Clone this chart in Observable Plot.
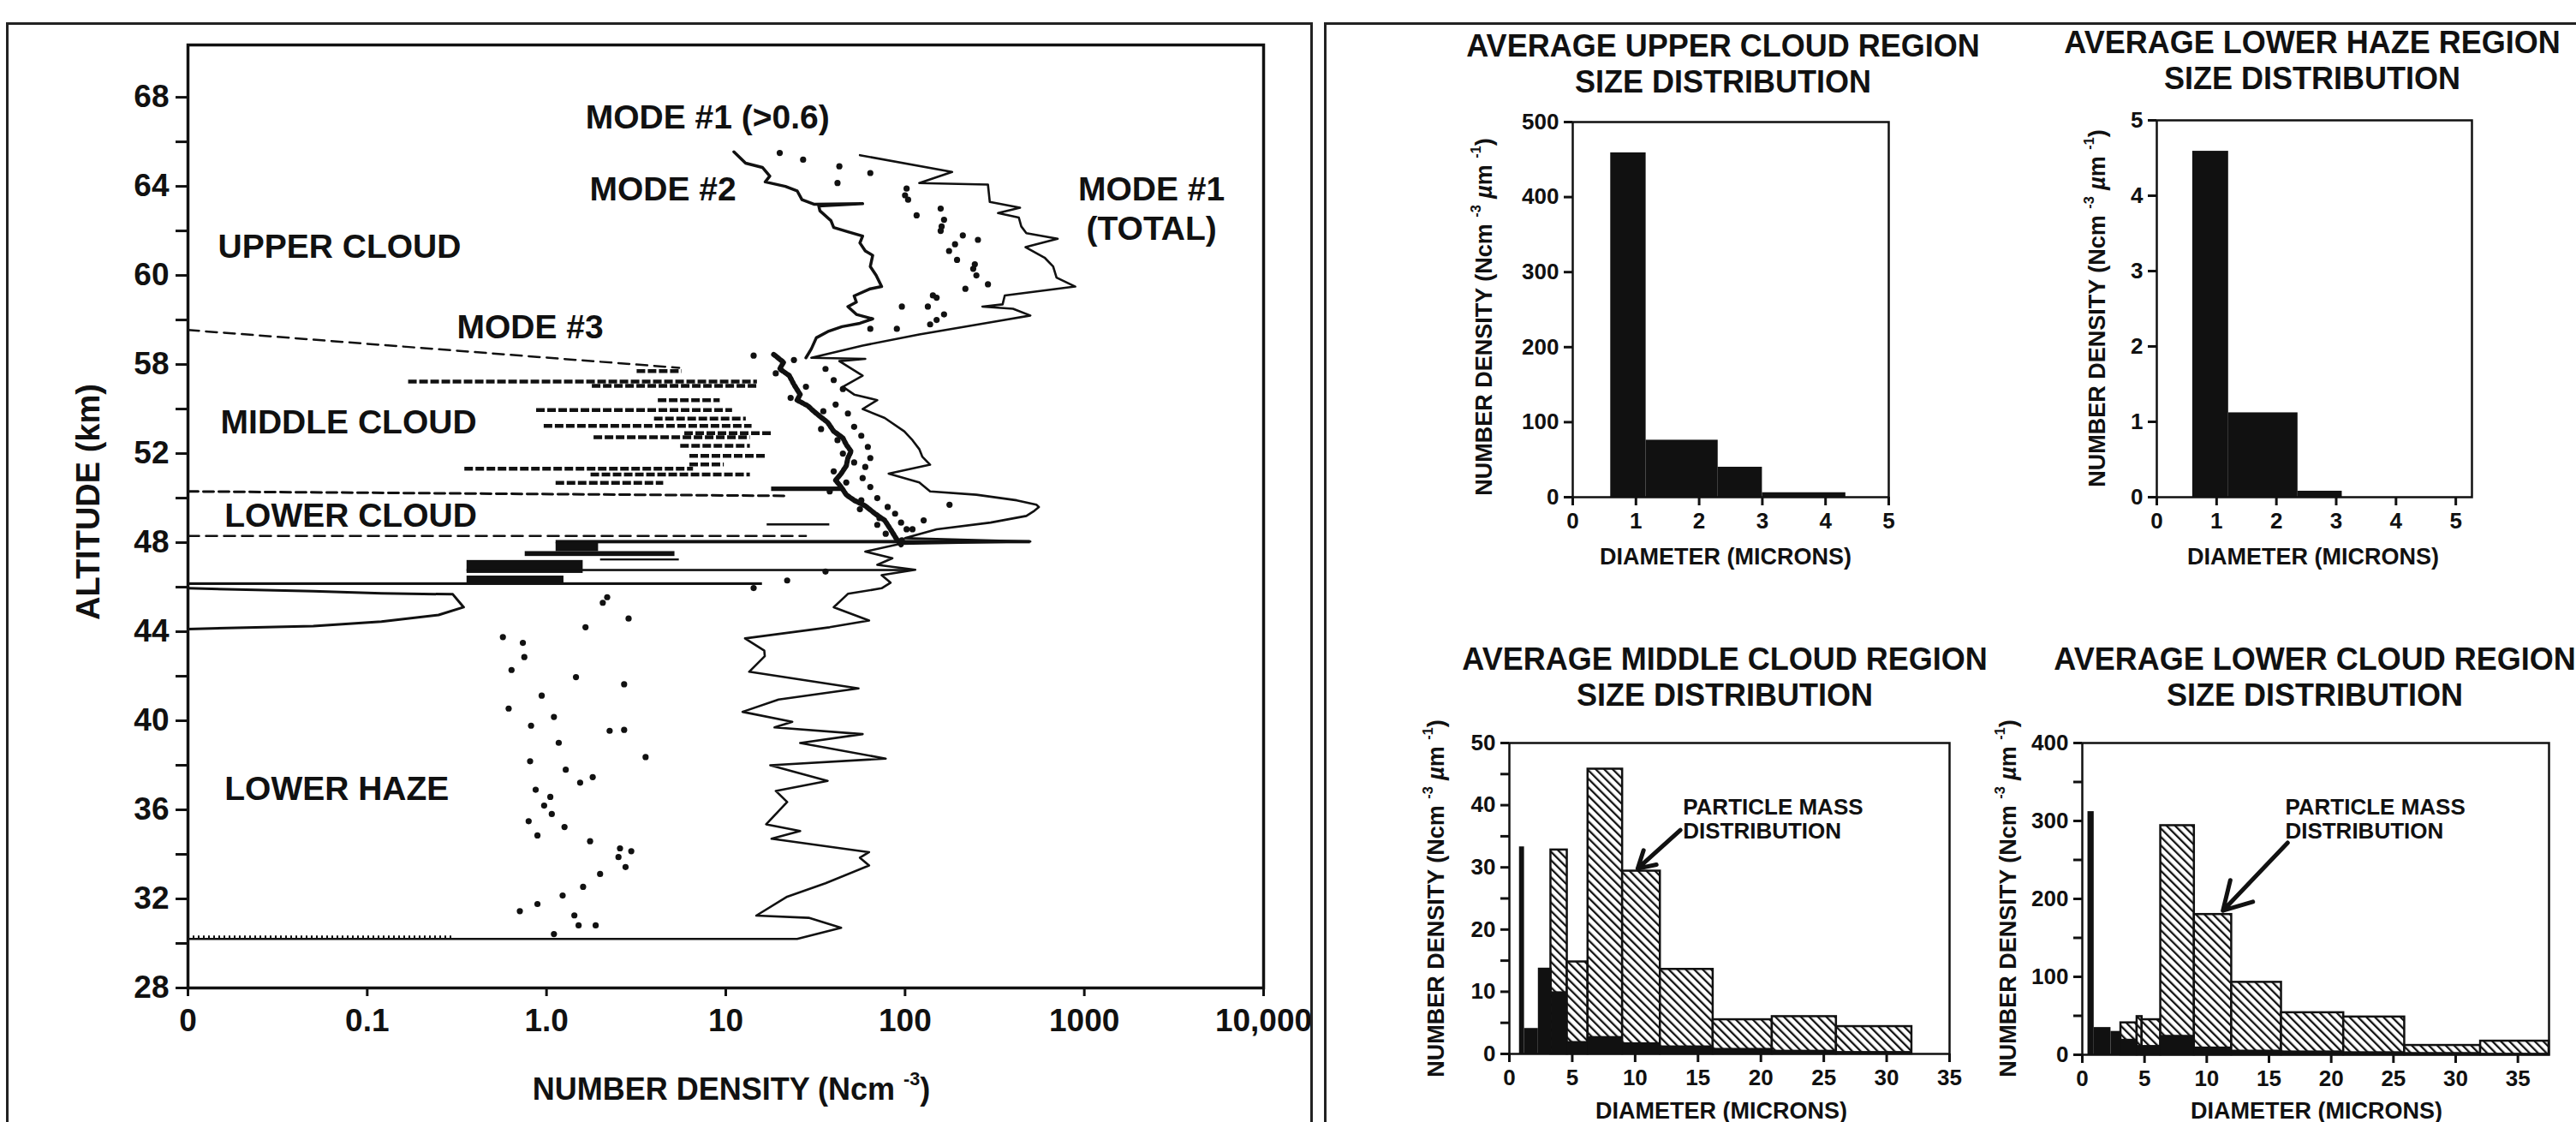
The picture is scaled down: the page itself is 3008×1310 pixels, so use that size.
<!DOCTYPE html>
<html><head><meta charset="utf-8">
<script src="https://cdn.jsdelivr.net/npm/d3@7"></script>
<script src="https://cdn.jsdelivr.net/npm/@observablehq/plot@0.6"></script>
<style>
html,body{margin:0;padding:0;background:#fff}
#page{position:relative;width:3008px;height:1310px;overflow:hidden;background:#fff;font-family:"Liberation Sans",Arial,Helvetica,sans-serif;font-weight:bold;color:#111}
.box{position:absolute;border:3px solid #222;box-sizing:border-box;pointer-events:none}
.chart{position:absolute}
.lbl{position:absolute;white-space:nowrap;transform:translate(-50%,-50%);line-height:1}
.rot{transform:translate(-50%,-50%) rotate(-90deg)}
sup{font-size:0.6em;vertical-align:0;position:relative;top:-0.8em}
.title{position:absolute;transform:translateX(-50%);text-align:center;white-space:nowrap;font-size:36px;line-height:42px}
g[aria-label="x-axis tick"], g[aria-label="y-axis tick"]{stroke-width:3px}
.tick line{stroke-width:3px}
</style></head>
<body>
<svg width="0" height="0" style="position:absolute;left:0;top:0">
 <defs>
  <pattern id="hatch" patternUnits="userSpaceOnUse" width="7" height="7" patternTransform="rotate(-45)">
   <rect width="7" height="7" fill="#fff"></rect>
   <rect x="0" y="0" width="2.3" height="7" fill="#111"></rect>
  </pattern>
 </defs>
</svg>
<div id="page"></div>
<script>
// ---------------- LEFT PANEL DATA (altitude km, number density Ncm^-3) ----------------
const xTicks = [0.01, 0.1, 1, 10, 100, 1000, 10000];
const xTickLabels = ["0", "0.1", "1.0", "10", "100", "1000", "10,000"];
const yTicks = [68,66,64,62,60,58,56,54,52,50,48,46,44,42,40,38,36,34,32,30,28];
const yLabelledTicks = [68,64,60,56,52,48,44,40,36,32,28];
const yTickLabels = ["68","64","60","58","52","48","44","40","36","32","28"];

const mode1Total = [
[65.4,56],[64.65,183],[64.15,120],[64.08,290],[63.3,297],[63.04,438],[62.8,330],[62.6,431],[62.2,445],[61.9,475],
[61.65,710],[61.27,470],[60.8,600],[60.4,670],[59.9,700],[59.5,890],[59.1,360],[58.7,350],[58.6,270],[58.5,400],
[58.2,500],[58.0,360],[57.35,120],[56.85,58],[56.3,30],[56.25,60],[56.15,43],[55.5,58],[55.0,45],[54.65,52],
[54.4,70],[54.0,58],[53.6,77],[53.0,99],[52.6,110],[52.2,120],[51.85,125],[51.5,138],[51.1,81],[50.7,120],
[50.3,138],[50.15,250],[49.9,420],[49.7,540],[49.6,558],[49.4,520],[49.2,475],[48.9,300],[48.6,150],[48.2,100],
[48.05,500],[47.95,95],[47.6,60],[47.3,85],[47.0,70],[46.78,114],[46.54,74],[46.2,83],[45.95,74],[45.7,48],
[45.1,40],[44.5,63],[44.2,38],[43.7,12.8],[43.15,16.4],[42.9,16.5],[42.2,13.5],[41.45,55],[40.95,19.7],[40.4,12.4],
[39.95,23.5],[39.7,18.7],[39.4,58],[39.0,26],[38.3,78],[38.0,17.7],[37.3,37],[36.85,19],[36.35,22],[35.35,16.8],
[35.05,26],[34.7,18],[34.1,63],[33.85,56],[33.5,63],[32.7,36],[32.1,22],[31.25,14.8],[31.15,29],[30.7,44],
[30.2,25],[30.2,0.01]
];

const mode2Upper = [
[65.55,11.1],[65.04,12.9],[64.85,16],[64.46,17.6],[64.2,16.6],[64.0,21.5],[63.8,25],[63.4,26.6],[63.2,31],[63.22,58],
[63.12,33],[62.9,33.5],[62.46,38.6],[62.15,40],[61.96,48],[61.77,58],[61.46,56],[61.1,60],[60.9,66],[60.4,64],
[60.0,69],[59.5,74],[59.4,64],[59.08,52],[58.8,53.5],[58.6,48],[58.25,53.5],[58.05,66],[57.85,56],[57.7,44.5],
[57.5,37.6],[57.2,32],[56.7,30],[56.3,28]
];

const mode2Middle = [
[56.45,18.5],[56.1,21],[55.8,20],[55.5,22.6],[55.1,24],[54.65,26],[54.4,25],[54.15,28.6],[53.8,32],[53.4,37],
[53.0,40],[52.7,45],[52.4,47],[52.1,50],[51.8,48],[51.45,47],[51.1,44],[50.8,41],[50.5,44],[50.15,47],
[49.9,52],[49.65,60],[49.3,68],[49.0,77],[48.6,83],[48.2,89],[47.9,95]
];

const mode1Dots = [
[65.5,20],[65.2,27],[64.9,43],[64.15,42],[64.6,64],[63.9,102],[63.6,100],[63.4,104],[62.7,116],[63.0,158],
[62.5,165],[62.2,160],[62.0,158],[61.8,210],[61.6,255],[61.4,190],[61.1,176],[60.7,195],[60.5,245],[60.3,240],
[60.0,250],[59.6,290],[59.4,217],[59.1,143],[59.0,150],[58.6,134],[58.6,96],[58.25,165],[58.0,150],[57.8,138],
[57.6,90],[57.6,64],
[56.4,14.3],[55.8,36],[55.3,40],[54.9,45],[54.2,41],[53.8,48],[53.2,52],[52.8,57],[52.3,62],[51.8,64],
[51.4,60],[50.9,58],[50.5,64],[50.0,70],[49.6,80],[49.3,88],[48.9,95],[48.6,110],[49.7,177],[49.0,127],
[48.6,102],[46.3,22],[46.7,36],[45.96,14.3],
[56.2,24],[55.6,19],[55.0,28],[54.5,23],[53.9,35],[53.1,34],[52.6,42],[52.0,45],[51.6,52],[51.2,40],
[50.7,47],[50.3,38],[49.9,57],[49.5,56],[49.1,72],[48.8,70],[48.4,78],[48.1,96],
[45.3,2.06],[45.55,2.18],[44.59,2.87],[44.2,1.65],[43.76,0.571],[43.5,0.738],[42.86,0.752],[42.28,0.638],[41.96,1.46],[41.64,2.71],
[41.13,0.94],[40.55,0.615],[40.17,1.10],[39.78,0.82],[39.59,2.71],[39.55,2.25],[39.01,1.17],[38.37,3.57],[38.18,0.81],[37.8,1.28],
[37.22,1.54],[37.47,1.81],[36.9,0.87],[36.58,1.05],[36.19,0.97],[35.81,1.07],[35.49,0.795],[35.23,1.26],[34.85,0.89],[34.59,1.75],
[34.27,2.57],[34.14,2.97],[33.88,2.52],[33.43,2.76],[33.12,1.99],[32.54,1.60],[32.15,1.23],[31.77,0.89],[31.45,0.71],[31.26,1.43],
[30.81,1.51],[30.81,1.88],[30.42,1.10]
];

// Mode #3 dashed segments: [altitude, from, to]
const mode3Segments = [
[55.7,3.2,5.7],[55.23,0.17,15],[55.04,1.8,15],[54.4,4.2,9.3],[53.95,0.88,10.9],[53.57,4,13],[53.24,0.97,14],
[52.92,5.9,18],[52.73,1.84,13.7],[52.35,5.6,13.7],[51.9,6.3,16.7],[51.51,6.3,9.8],[51.32,0.35,6.6],
[51.06,1.77,13.7],[50.68,1.13,4.5]
];

// region boundary dashed lines: [altitude, value]
const boundaryUpper = [[57.55,0.01],[55.85,5.5]];
const boundaryMiddle = [[50.3,0.01],[50.1,22]];
const boundaryLower = [[48.3,0.01],[48.3,28]];

// solid bars near the cloud base: [from, to, alt bottom, alt top]
const baseBars = [
[1.13,500,47.95,48.1],[1.13,1.95,47.6,48.0],[0.76,5.2,47.38,47.6],[2.0,5.5,47.18,47.27],[0.36,1.6,46.62,47.2],
[0.36,1.25,46.15,46.5],[0.36,110,46.7,46.8],[0.01,16,46.08,46.2],[18,45,50.3,50.5],[17,38,48.75,48.85]
];

const hazeSpike = [[45.95,0.01],[45.82,0.05],[45.72,0.12],[45.68,0.3],[45.1,0.345],[44.75,0.25],[44.45,0.12],[44.25,0.05],[44.12,0.01]];
const hazeStipple = [[30.3,0.01,0.3]];

const regionLabels = [
 {label:"MODE #1 (>0.6)", v:1.65, alt:67.08, anchor:"start"},
 {label:"MODE #2", v:1.74, alt:63.85, anchor:"start"},
 {label:"MODE #1", v:2370, alt:63.85, anchor:"middle"},
 {label:"(TOTAL)", v:2370, alt:62.08, anchor:"middle"},
 {label:"UPPER CLOUD", v:0.0147, alt:61.27, anchor:"start"},
 {label:"MODE #3", v:0.316, alt:57.65, anchor:"start"},
 {label:"MIDDLE CLOUD", v:0.0152, alt:53.38, anchor:"start"},
 {label:"LOWER CLOUD", v:0.016, alt:49.19, anchor:"start"},
 {label:"LOWER HAZE", v:0.016, alt:36.92, anchor:"start"}
];

// ---------------- RIGHT PANEL DATA: size-distribution bins [from um, to um, value] ----------------
const upperCloudBins = [[0.6,1.16,459],[1.16,2.3,76],[2.3,3.0,40],[3.0,4.32,6]];
const lowerHazeBins = [[0.6,1.2,4.59],[1.2,2.36,1.12],[2.36,3.1,0.08]];
const middleNumberBins = [[0.8,1.2,33.3],[1.2,2.3,4.1],[2.3,3.4,13.8],[3.4,4.6,10],[4.6,6.25,2.0],[6.25,9.0,2.8],[9.0,12.0,1.8],[12.0,16.2,1.3],[16.2,20.9,0.9],[20.9,26.0,0.6],[26.0,32.0,0.4]];
const middleMassBins = [[3.3,4.6,32.8],[4.6,6.25,14.8],[6.25,9.0,45.8],[9.0,12.0,29.4],[12.0,16.2,13.6],[16.2,20.9,5.5],[20.9,26.0,6.0],[26.0,32.0,4.4]];
const lowerNumberBins = [[0.45,0.95,312],[0.95,2.3,35],[2.3,3.1,30],[3.1,4.4,20],[4.4,6.3,12],[6.3,9.0,25],[9.0,12.0,10],[12.0,16.0,6],[16.0,21.0,5],[21.0,25.9,4],[25.9,32.0,3],[32.0,37.5,2]];
const lowerMassBins = [[3.1,4.4,41],[4.4,4.8,49],[4.8,6.3,45],[6.3,9.0,294],[9.0,12.0,180],[12.0,16.0,93],[16.0,21.0,54],[21.0,25.9,48.5],[25.9,32.0,12],[32.0,37.5,17.5]];
const massNoteText = "PARTICLE MASS\nDISTRIBUTION";
const middleNote = {x:13.8, y:37.85}, middleArrow = {x1:13.6, y1:36.0, x2:10.2, y2:29.8};
const lowerNote = {x:16.3, y:302.7}, lowerArrow = {x1:16.5, y1:272, x2:11.3, y2:185};

// ---------------- BUILD ----------------
const FONT = '"Liberation Sans", Arial, Helvetica, sans-serif';
const page = document.getElementById("page");
function place(node, left, top, w) {
  const d = document.createElement("div");
  d.className = "chart"; d.style.left = left + "px"; d.style.top = top + "px"; d.style.width = w + "px";
  d.appendChild(node); page.appendChild(d);
}
const A = d => d[0], V = d => d[1];

const left = Plot.plot({
  width: 1540, height: 1310,
  marginLeft: 219, marginRight: 65, marginTop: 52, marginBottom: 157,
  style: {fontFamily: FONT, fontWeight: "bold", fontSize: "37px", background: "none", maxWidth: "none", color: "#111"},
  x: {type: "log", domain: [0.01, 10000], ticks: xTicks, tickFormat: d => xTickLabels[xTicks.indexOf(d)], tickSize: 10, tickPadding: 14, label: null},
  y: {domain: [28, 70.35], ticks: yTicks, tickFormat: d => { const i = yLabelledTicks.indexOf(d); return i >= 0 ? yTickLabels[i] : ""; }, tickSize: 14, tickPadding: 8, label: null},
  marks: [
    Plot.line(boundaryUpper, {x: V, y: A, stroke: "#111", strokeWidth: 2.5, strokeDasharray: "13,8"}),
    Plot.line(boundaryMiddle, {x: V, y: A, stroke: "#111", strokeWidth: 3, strokeDasharray: "12,6"}),
    Plot.line(boundaryLower, {x: V, y: A, stroke: "#111", strokeWidth: 2.5, strokeDasharray: "13,8"}),
    Plot.ruleY(mode3Segments, {y: d => d[0], x1: d => d[1], x2: d => d[2], stroke: "#111", strokeWidth: 4.5, strokeDasharray: "10,3"}),
    Plot.rect(baseBars, {x1: d => d[0], x2: d => d[1], y1: d => d[2], y2: d => d[3], fill: "#111"}),
    Plot.line(hazeSpike, {x: V, y: A, stroke: "#111", strokeWidth: 3}),
    Plot.ruleY(hazeStipple, {y: d => d[0], x1: d => d[1], x2: d => d[2], stroke: "#111", strokeWidth: 3, strokeDasharray: "2,4"}),
    Plot.line(mode2Upper, {x: V, y: A, stroke: "#111", strokeWidth: 3.5}),
    Plot.line(mode2Middle, {x: V, y: A, stroke: "#111", strokeWidth: 6, strokeDasharray: "3,2"}),
    Plot.line(mode1Total, {x: V, y: A, stroke: "#111", strokeWidth: 2.6}),
    Plot.dot(mode1Dots, {x: V, y: A, r: 3.6, fill: "#111"}),
    Plot.text(regionLabels.filter(d => d.anchor === "start"), {x: "v", y: "alt", text: "label", textAnchor: "start", fontSize: 39, fontWeight: "bold", fill: "#111"}),
    Plot.text(regionLabels.filter(d => d.anchor === "middle"), {x: "v", y: "alt", text: "label", textAnchor: "middle", fontSize: 39, fontWeight: "bold", fill: "#111"}),
    Plot.frame({stroke: "#111", strokeWidth: 3.5})
  ]
});
place(left, 0, 0, 1540);

function hist(o) {
  const marks = [];
  if (o.mass) marks.push(Plot.rect(o.mass, {x1: d => d[0], x2: d => d[1], y1: 0, y2: d => d[2], fill: "url(#hatch)", stroke: "#111", strokeWidth: 2.5}));
  marks.push(Plot.rect(o.number, {x1: d => d[0], x2: d => d[1], y1: 0, y2: d => d[2], fill: "#111"}));
  marks.push(Plot.frame({stroke: "#111", strokeWidth: 2.5}));
  if (o.note) marks.push(Plot.text([o.note], {x: "x", y: "y", text: () => massNoteText, textAnchor: "start", lineAnchor: "middle", lineHeight: 1.08, fontSize: 26, fontWeight: "bold", fill: "#111"}));
  if (o.arrow) marks.push(Plot.arrow([o.arrow], {x1: "x1", y1: "y1", x2: "x2", y2: "y2", stroke: "#111", strokeWidth: 5, headLength: 24}));
  return Plot.plot({
    width: o.w, height: o.h, marginLeft: o.ml, marginRight: o.mr, marginTop: o.mt, marginBottom: o.mb,
    style: {fontFamily: FONT, fontWeight: "bold", fontSize: "26px", background: "none", maxWidth: "none", color: "#111"},
    x: {domain: o.xDomain, ticks: o.xTicks, tickFormat: d => String(d), tickSize: 10, tickPadding: 8, label: null},
    y: {domain: o.yDomain, ticks: o.yTicks, tickFormat: d => (d % o.every === 0 ? String(d) : ""), tickSize: 10, tickPadding: 6, label: null},
    marks
  });
}

place(hist({w: 500, h: 520, ml: 96, mr: 35, mt: 22, mb: 60, xDomain: [0, 5], xTicks: [0,1,2,3,4,5], yDomain: [0, 500], yTicks: [0,100,200,300,400,500], every: 100, number: upperCloudBins}), 1740, 120, 500);
place(hist({w: 520, h: 522, ml: 98, mr: 54, mt: 22, mb: 60, xDomain: [0, 5.27], xTicks: [0,1,2,3,4,5], yDomain: [0, 5], yTicks: [0,1,2,3,4,5], every: 1, number: lowerHazeBins}), 2420, 118, 520);
place(hist({w: 640, h: 465, ml: 92, mr: 34, mt: 22, mb: 80, xDomain: [0, 35], xTicks: [0,5,10,15,20,25,30,35], yDomain: [0, 50], yTicks: [0,5,10,15,20,25,30,35,40,45,50], every: 10, number: middleNumberBins, mass: middleMassBins, note: middleNote, arrow: middleArrow}), 1670, 845, 640);
place(hist({w: 668, h: 465, ml: 91, mr: 32, mt: 22, mb: 79, xDomain: [0, 37.5], xTicks: [0,5,10,15,20,25,30,35], yDomain: [0, 400], yTicks: [0,50,100,150,200,250,300,350,400], every: 100, number: lowerNumberBins, mass: lowerMassBins, note: lowerNote, arrow: lowerArrow}), 2340, 845, 668);

// ---------------- TEXT & PANEL BORDERS ----------------
const html = `
<div class="box" style="left:7px;top:26px;width:1526px;height:1400px"></div>
<div class="box" style="left:1546px;top:26px;width:1600px;height:1400px"></div>
<div class="lbl" style="left:854px;top:1272px;font-size:36px">NUMBER DENSITY (Ncm <sup>-3</sup>)</div>
<div class="lbl rot" style="left:103px;top:586px;font-size:38px">ALTITUDE (km)</div>
<div class="title" style="left:2012px;top:33px">AVERAGE UPPER CLOUD REGION<br>SIZE DISTRIBUTION</div>
<div class="title" style="left:2700px;top:29px">AVERAGE LOWER HAZE REGION<br>SIZE DISTRIBUTION</div>
<div class="title" style="left:2014px;top:749px">AVERAGE MIDDLE CLOUD REGION<br>SIZE DISTRIBUTION</div>
<div class="title" style="left:2703px;top:749px">AVERAGE LOWER CLOUD REGION<br>SIZE DISTRIBUTION</div>
<div class="lbl" style="left:2015px;top:650px;font-size:27px">DIAMETER (MICRONS)</div>
<div class="lbl" style="left:2701px;top:650px;font-size:27px">DIAMETER (MICRONS)</div>
<div class="lbl" style="left:2010px;top:1297px;font-size:27px">DIAMETER (MICRONS)</div>
<div class="lbl" style="left:2705px;top:1297px;font-size:27px">DIAMETER (MICRONS)</div>
<div class="lbl rot" style="left:1733px;top:370px;font-size:27px">NUMBER DENSITY (Ncm <sup>-3</sup> <i>µ</i>m <sup>-1</sup>)</div>
<div class="lbl rot" style="left:2449px;top:360px;font-size:27px">NUMBER DENSITY (Ncm <sup>-3</sup> <i>µ</i>m <sup>-1</sup>)</div>
<div class="lbl rot" style="left:1677px;top:1049px;font-size:27px">NUMBER DENSITY (Ncm <sup>-3</sup> <i>µ</i>m <sup>-1</sup>)</div>
<div class="lbl rot" style="left:2345px;top:1049px;font-size:27px">NUMBER DENSITY (Ncm <sup>-3</sup> <i>µ</i>m <sup>-1</sup>)</div>
`;
page.insertAdjacentHTML("beforeend", html);
</script>
</body></html>
